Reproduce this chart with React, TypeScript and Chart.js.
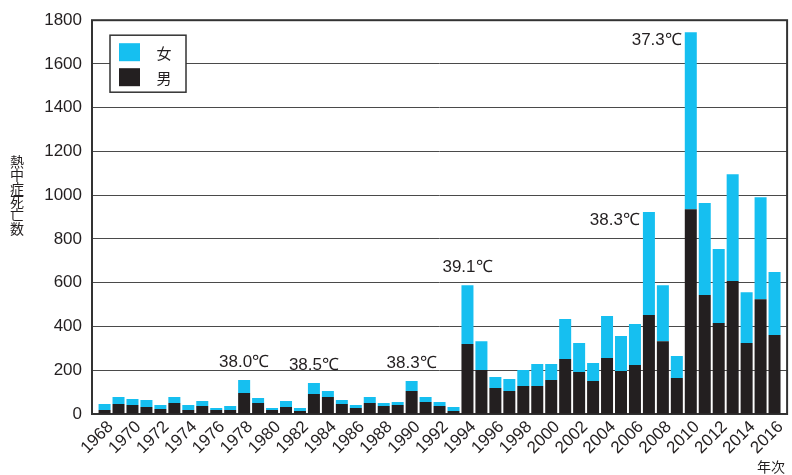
import React, { useEffect, useRef } from 'react';
import { Chart, registerables } from 'chart.js';

Chart.register(...registerables);

const years = [
  1968, 1969, 1970, 1971, 1972, 1973, 1974, 1975, 1976, 1977,
  1978, 1979, 1980, 1981, 1982, 1983, 1984, 1985, 1986, 1987,
  1988, 1989, 1990, 1991, 1992, 1993, 1994, 1995, 1996, 1997,
  1998, 1999, 2000, 2001, 2002, 2003, 2004, 2005, 2006, 2007,
  2008, 2009, 2010, 2011, 2012, 2013, 2014, 2015, 2016,
];

const maleDeaths = [
  18, 46, 41, 32, 23, 50, 18, 37, 18, 18,
  96, 50, 18, 32, 14, 91, 78, 46, 27, 50,
  37, 41, 105, 55, 37, 14, 320, 201, 119, 105,
  128, 128, 155, 251, 192, 151, 256, 196, 224, 452,
  333, 164, 936, 544, 416, 608, 324, 525, 361,
];

const femaleDeaths = [
  28, 32, 27, 32, 18, 28, 23, 22, 9, 19,
  59, 23, 9, 27, 13, 51, 27, 18, 14, 28,
  13, 14, 46, 23, 18, 18, 269, 132, 50, 55,
  73, 100, 73, 183, 132, 82, 192, 160, 187, 471,
  256, 101, 809, 420, 338, 488, 233, 466, 288,
];

const yTicks = [0, 200, 400, 600, 800, 1000, 1200, 1400, 1600, 1800];
const xTickYears = years.filter((y) => y % 2 === 0);

const annotationYears = [1978, 1983, 1990, 1994, 2007, 2010];
const annotationTexts = ['38.0℃', '38.5℃', '38.3℃', '39.1℃', '38.3℃', '37.3℃'];
const annotationSides = ['above', 'above', 'above', 'above', 'left', 'left'];

const seriesLabels = ['男', '女'];
const yAxisTitle = '熱中症死亡数';
const xAxisTitle = '年次';

const CYAN = '#16bff0';
const BLACK = '#231f20';
const TEXT = '#231f20';
const LATIN = '"Liberation Sans", Arial, sans-serif';
const CJK = '"Noto Sans CJK JP", "Noto Sans", sans-serif';

const decorPlugin = {
  id: 'decor',
  beforeDatasetsDraw(chart: any) {
    const { ctx, chartArea } = chart;
    ctx.save();
    ctx.strokeStyle = '#333333';
    ctx.lineWidth = 2;
    ctx.strokeRect(chartArea.left, chartArea.top, chartArea.right - chartArea.left, chartArea.bottom - chartArea.top);
    ctx.restore();
  },
  afterDatasetsDraw(chart: any) {
    const { ctx } = chart;
    const meta = chart.getDatasetMeta(1);
    ctx.save();
    ctx.fillStyle = TEXT;
    ctx.font = `17px ${LATIN}`;
    annotationYears.forEach((yr, k) => {
      const idx = years.indexOf(yr);
      const el = meta.data[idx];
      if (!el) return;
      const props = el.getProps(['x', 'y', 'width'], true);
      if (annotationSides[k] === 'above') {
        ctx.textAlign = 'center';
        ctx.textBaseline = 'bottom';
        ctx.fillText(annotationTexts[k], props.x, props.y - 9);
      } else {
        ctx.textAlign = 'right';
        ctx.textBaseline = 'middle';
        ctx.fillText(annotationTexts[k], props.x - props.width / 2 - 3, props.y + 8);
      }
    });
    ctx.restore();
  },
  afterDraw(chart: any) {
    const { ctx, chartArea } = chart;
    ctx.save();
    // legend box
    const lx = chartArea.left + 18;
    const ly = chartArea.top + 15;
    ctx.fillStyle = '#ffffff';
    ctx.fillRect(lx, ly, 76, 57);
    ctx.strokeStyle = '#333333';
    ctx.lineWidth = 1.5;
    ctx.strokeRect(lx, ly, 76, 57);
    ctx.fillStyle = CYAN;
    ctx.fillRect(lx + 9, ly + 8, 21, 18);
    ctx.fillStyle = BLACK;
    ctx.fillRect(lx + 9, ly + 33, 21, 18);
    ctx.fillStyle = TEXT;
    ctx.font = `15px ${CJK}`;
    ctx.textAlign = 'center';
    ctx.textBaseline = 'middle';
    ctx.fillText(seriesLabels[1], lx + 54, ly + 18);
    ctx.fillText(seriesLabels[0], lx + 54, ly + 43);

    // y axis title (vertical stacked characters)
    ctx.font = `14px ${CJK}`;
    const chars = Array.from(yAxisTitle);
    const startY = 161.5;
    chars.forEach((c, i) => {
      ctx.fillText(c, 17, startY + i * 13.4);
    });

    // x axis title
    ctx.font = `14px ${CJK}`;
    ctx.textAlign = 'right';
    ctx.textBaseline = 'alphabetic';
    ctx.fillText(xAxisTitle, 785, chart.height - 3);
    ctx.restore();
  },
};

export default function App() {
  const canvasRef = useRef<HTMLCanvasElement | null>(null);

  useEffect(() => {
    document.body.style.margin = '0';
    const canvas = canvasRef.current;
    if (!canvas) return;
    const chart = new Chart(canvas, {
      type: 'bar',
      data: {
        labels: years,
        datasets: [
          {
            label: seriesLabels[0],
            data: maleDeaths,
            backgroundColor: BLACK,
            borderWidth: 0,
            barPercentage: 0.86,
            categoryPercentage: 1,
          },
          {
            label: seriesLabels[1],
            data: femaleDeaths,
            backgroundColor: CYAN,
            borderWidth: 0,
            barPercentage: 0.86,
            categoryPercentage: 1,
          },
        ],
      },
      options: {
        animation: false,
        responsive: true,
        maintainAspectRatio: false,
        layout: { padding: { top: 20, right: 2, left: 0, bottom: 0 } },
        plugins: {
          legend: { display: false },
          tooltip: { enabled: false },
        },
        scales: {
          x: {
            type: 'linear',
            stacked: true,
            min: 1967.1,
            max: 2016.9,
            offset: false,
            grid: { display: false, drawTicks: false },
            border: { display: false },
            afterBuildTicks(scale: any) {
              scale.ticks = xTickYears.map((v) => ({ value: v }));
            },
            afterFit(scale: any) {
              scale.height = 61;
            },
            ticks: {
              autoSkip: false,
              maxRotation: 45,
              minRotation: 45,
              padding: 3,
              labelOffset: 6,
              color: TEXT,
              font: { family: LATIN, size: 17 },
              callback: (v: any) => String(v),
            },
          },
          y: {
            stacked: true,
            min: 0,
            max: 1800,
            afterBuildTicks(scale: any) {
              scale.ticks = yTicks.map((v) => ({ value: v }));
            },
            afterFit(scale: any) {
              scale.width = 92;
            },
            grid: { color: '#4a4a4a', lineWidth: 1, drawTicks: false },
            border: { display: false },
            ticks: {
              padding: 10,
              color: TEXT,
              font: { family: LATIN, size: 17 },
              callback: (v: any) => String(v),
            },
          },
        },
      },
      plugins: [decorPlugin],
    } as any);
    return () => chart.destroy();
  }, []);

  return (
    <div style={{ position: 'absolute', left: 0, top: 0, width: 792, height: 475 }}>
      <canvas ref={canvasRef} />
    </div>
  );
}
